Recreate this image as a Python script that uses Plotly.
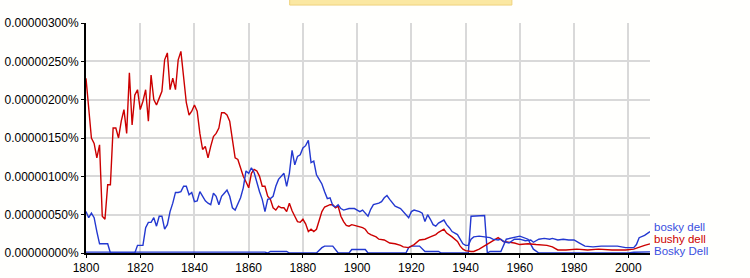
import plotly.graph_objects as go

# values are in units of 1e-6 percent (e.g. 2.5 -> 0.00000250%)
bushy_years = [1800,1801,1802,1803,1804,1805,1806,1807,1808,1809,1810,1811,1812,1813,1814,1815,1816,1817,1818,1819,
               1820,1821,1822,1823,1824,1825,1826,1827,1828,1829,1830,1831,1832,1833,1834,1835,1836,1837,1838,1839,
               1840,1841,1842,1843,1844,1845,1846,1847,1848,1849,1850,1851,1852,1853,1854,1855,1856,1857,1858,1859,
               1860,1861,1862,1863,1864,1865,1866,1867,1868,1869,1870,1871,1872,1873,1874,1875,1876,1877,1878,1879,
               1880,1881,1882,1883,1884,1885,1886,1887,1888,1889,1890,1891,1892,1893,1894,1895,1896,1897,1898,1899,
               1900,1901,1902,1903,1904,1905,1906,1907,1908,1910,1912,1914,1916,1917,1919,1921,1923,1925,1927,1929,
               1930,1932,1933,1934,1935,1937,1938,1939,1940,1942,1943,1945,1947,1949,1951,1952,1954,1956,1958,1960,
               1963,1966,1970,1972,1974,1977,1981,1985,1989,1994,1999,2002,2004,2006,2008]
bushy_dell = [2.28,1.87,1.50,1.43,1.24,1.41,0.48,0.44,0.89,0.89,1.63,1.63,1.50,1.72,1.87,1.56,2.35,1.67,2.06,2.13,
              1.87,1.98,2.13,1.72,2.32,2.00,1.93,2.02,2.11,2.52,2.61,2.13,2.28,2.13,2.52,2.63,2.30,1.96,1.80,1.85,
              1.93,1.85,1.56,1.35,1.39,1.24,1.39,1.52,1.56,1.63,1.83,1.83,1.80,1.72,1.48,1.24,1.22,1.11,1.00,0.93,
              0.85,1.04,1.09,1.07,1.00,0.87,0.87,0.74,0.70,0.59,0.56,0.61,0.59,0.59,0.54,0.65,0.55,0.48,0.41,0.40,
              0.44,0.38,0.28,0.31,0.28,0.31,0.44,0.54,0.60,0.62,0.63,0.63,0.59,0.61,0.48,0.41,0.36,0.35,0.37,0.36,
              0.35,0.35,0.33,0.31,0.26,0.24,0.23,0.21,0.18,0.17,0.13,0.12,0.10,0.08,0.07,0.11,0.17,0.18,0.21,0.24,
              0.27,0.31,0.26,0.24,0.21,0.15,0.09,0.05,0.03,0.02,0.02,0.05,0.09,0.13,0.18,0.20,0.15,0.14,0.13,0.11,
              0.12,0.11,0.10,0.08,0.04,0.04,0.05,0.04,0.05,0.04,0.04,0.05,0.08,0.10,0.12]

bosky_years = [1800,1801,1802,1803,1804,1805,1806,1807,1808,1809,1818,1819,1820,1821,1822,1823,1824,1825,1826,1827,
               1828,1829,1830,1831,1832,1833,1834,1835,1836,1837,1838,1839,1840,1841,1842,1843,1844,1845,1846,1847,
               1848,1849,1850,1851,1852,1853,1854,1855,1856,1857,1858,1859,1860,1861,1862,1863,1864,1865,1866,1867,
               1868,1869,1870,1871,1872,1873,1874,1875,1876,1877,1878,1879,1880,1881,1882,1883,1884,1885,1886,1887,
               1888,1889,1890,1891,1892,1893,1894,1895,1897,1899,1900,1901,1902,1903,1904,1905,1906,1908,1909,1910,
               1911,1912,1913,1914,1916,1917,1918,1919,1920,1921,1923,1924,1925,1926,1927,1928,1929,1930,1932,1933,
               1934,1935,1937,1938,1939,1940,1941,1942,1943,1945,1947,1949,1950,1952,1953,1954,1956,1958,1960,1962,
               1964,1965,1967,1969,1971,1972,1974,1976,1978,1980,1982,1984,1987,1990,1993,1996,1999,2002,2003,2004,
               2006,2007,2008]
bosky_dell = [0.54,0.46,0.52,0.46,0.28,0.12,0.12,0.12,0.12,0.00,0.00,0.10,0.10,0.10,0.33,0.40,0.40,0.46,0.35,0.48,
              0.48,0.31,0.37,0.54,0.65,0.79,0.79,0.80,0.87,0.87,0.76,0.79,0.67,0.68,0.80,0.74,0.68,0.65,0.63,0.78,
              0.74,0.63,0.74,0.78,0.82,0.74,0.59,0.56,0.65,0.72,0.85,1.07,1.04,1.11,1.05,0.91,0.80,0.70,0.54,0.70,
              0.71,0.74,0.87,0.96,1.00,1.04,0.87,1.04,1.34,1.15,1.26,1.28,1.37,1.40,1.47,1.18,1.20,1.02,0.96,0.90,
              0.80,0.71,0.72,0.62,0.60,0.63,0.58,0.56,0.58,0.58,0.56,0.54,0.56,0.52,0.48,0.57,0.63,0.65,0.67,0.72,
              0.75,0.70,0.65,0.61,0.58,0.54,0.50,0.46,0.54,0.56,0.54,0.52,0.41,0.50,0.44,0.37,0.35,0.39,0.43,0.37,
              0.33,0.28,0.24,0.18,0.12,0.10,0.10,0.18,0.21,0.22,0.21,0.20,0.18,0.17,0.18,0.15,0.13,0.18,0.18,0.16,
              0.17,0.14,0.18,0.19,0.18,0.19,0.17,0.18,0.17,0.17,0.13,0.09,0.08,0.09,0.09,0.09,0.07,0.07,0.11,0.20,
              0.23,0.26,0.28]

bosky_cap_years = [1800,1866,1867,1868,1874,1875,1885,1887,1888,1891,1893,1897,1898,1903,1904,1918,1919,1920,1923,
                   1925,1930,1931,1941,1942,1947,1948,1949,1953,1955,1958,1960,1963,1965,1967,2000,2002,2008]
bosky_cap_dell = [0.012,0.012,0.0,0.02,0.02,0.0,0.0,0.07,0.09,0.09,0.0,0.0,0.045,0.045,0.0,0.0,0.07,0.09,0.09,
                  0.02,0.02,0.0,0.0,0.48,0.49,0.0,0.02,0.02,0.18,0.20,0.22,0.18,0.05,0.0,0.0,0.01,0.015]

series_names = ["bosky dell", "bushy dell", "Bosky Dell"]
label_positions = [0.345, 0.185, 0.030]

y_ticks = [0, 0.5, 1.0, 1.5, 2.0, 2.5, 3.0]
y_ticktext = [f"{v * 1e-6:.8f}%" for v in y_ticks]
x_ticks = list(range(1800, 2001, 20))

BLUE = "#2338d0"
RED = "#cc0000"
LABEL_BLUE = "#3a4fe0"
FONT = "Arial, Liberation Sans, sans-serif"

fig = go.Figure()
fig.add_trace(go.Scatter(x=bosky_cap_years, y=bosky_cap_dell, mode="lines", name=series_names[2],
                         line=dict(color=BLUE, width=1.4)))
fig.add_trace(go.Scatter(x=bushy_years, y=bushy_dell, mode="lines", name=series_names[1],
                         line=dict(color=RED, width=1.4)))
fig.add_trace(go.Scatter(x=bosky_years, y=bosky_dell, mode="lines", name=series_names[0],
                         line=dict(color=BLUE, width=1.4)))

for name, ypos, col in zip(series_names, label_positions, [LABEL_BLUE, RED, LABEL_BLUE]):
    fig.add_annotation(x=1, xref="paper", y=ypos, yref="y", text=name, showarrow=False,
                       xanchor="left", yanchor="middle", xshift=2,
                       font=dict(family=FONT, size=11.5, color=col))

# yellow notification box partly visible at the top
fig.add_shape(type="rect", xref="paper", yref="paper", x0=0.3611, x1=0.7551, y0=1.078, y1=1.2,
              fillcolor="#fbe8a2", line=dict(color="#efd27c", width=1), layer="above")

fig.update_layout(
    width=750, height=278,
    margin=dict(l=86, r=100, t=23, b=25, autoexpand=False),
    paper_bgcolor="#fffffd", plot_bgcolor="#fffffd",
    showlegend=False,
    font=dict(family=FONT, size=12, color="#000000"),
    xaxis=dict(range=[1800, 2008], tickvals=x_ticks, showgrid=True, gridcolor="#d9d9d9", gridwidth=1.5,
               showline=True, linecolor="#000000", linewidth=2, ticks="outside", ticklen=3,
               tickcolor="#000000", zeroline=False, automargin=False, tickfont=dict(size=12, family=FONT)),
    yaxis=dict(range=[0, 3.0], tickvals=y_ticks, ticktext=y_ticktext, showgrid=True, gridcolor="#d9d9d9",
               gridwidth=1.5, showline=True, linecolor="#000000", linewidth=2, ticks="outside", ticklen=3,
               tickcolor="#000000", zeroline=False, automargin=False, tickfont=dict(size=12, family=FONT)),
)

fig.write_html("out.html")
